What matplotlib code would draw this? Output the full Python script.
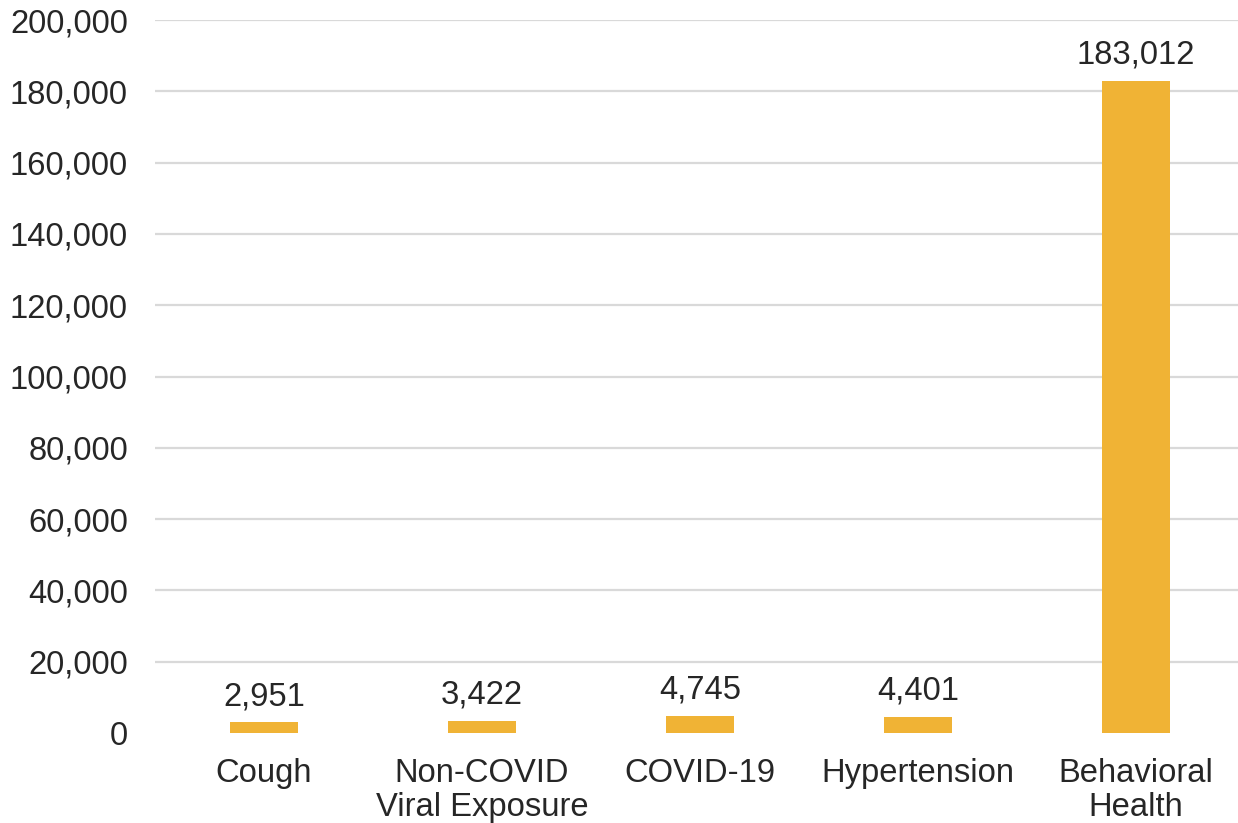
import matplotlib
matplotlib.use("Agg")
import matplotlib.pyplot as plt
from matplotlib.ticker import FuncFormatter

categories = ["Cough", "Non-COVID\nViral Exposure", "COVID-19", "Hypertension", "Behavioral\nHealth"]
values = [2951, 3422, 4745, 4401, 183012]
yticks = [0, 20000, 40000, 60000, 80000, 100000, 120000, 140000, 160000, 180000, 200000]

plt.rcParams['font.family'] = ['Liberation Sans', 'DejaVu Sans']

W, H = 1238, 823
fig = plt.figure(figsize=(W/100, H/100), dpi=100)
left, right, top, bottom = 155, 1238, 20, 733
ax = fig.add_axes([left/W, 1 - bottom/H, (right-left)/W, (bottom-top)/H])

FS = 23.6
x = list(range(len(categories)))
bars = ax.bar(x, values, width=68/218, color="#F0B335", zorder=3)
ax.set_ylim(0, 200000)
ax.set_xlim(-0.5, -0.5 + (right-left)/218)
ax.set_yticks(yticks)
ax.yaxis.set_major_formatter(FuncFormatter(lambda v, p: f"{int(v):,}"))
for t in yticks[1:]:
    ax.axhline(t, color="#D9D9D9", lw=1.6, zorder=1)
ax.set_xticks(x)
ax.set_xticklabels(categories, fontsize=FS, color="#262626", linespacing=1.13)
ax.tick_params(axis='y', labelsize=FS, labelcolor="#262626", length=0, pad=19.5)
ax.tick_params(axis='x', length=0, pad=18)
for s in ax.spines.values():
    s.set_visible(False)
for xi, v in zip(x, values):
    ax.annotate(f"{v:,}", (xi, v), xytext=(0, 7.5), textcoords="offset points",
                ha="center", va="bottom", fontsize=FS, color="#262626")
fig.savefig("out.png", dpi=100)
